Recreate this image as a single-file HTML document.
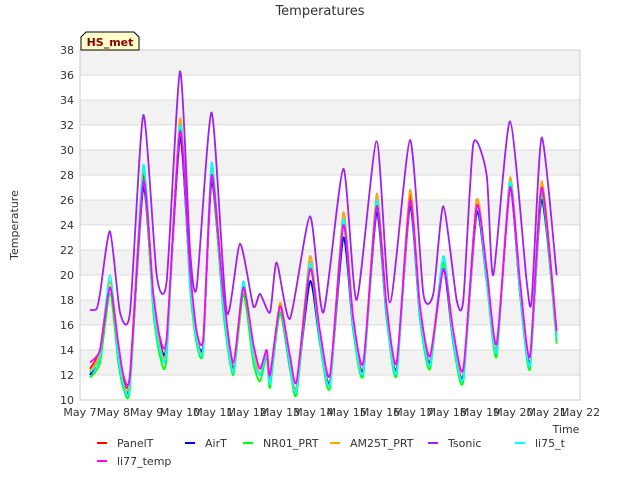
<!DOCTYPE html>
<html><head><meta charset="utf-8">
<style>
body{margin:0;background:#fff;font-family:"Liberation Sans","DejaVu Sans",sans-serif;}
svg text{font-family:"DejaVu Sans","Liberation Sans",sans-serif;}
</style></head>
<body>
<svg id="chart" width="640" height="480" xmlns="http://www.w3.org/2000/svg">
<text x="320" y="15" text-anchor="middle" font-size="13" fill="#333">Temperatures</text>
<g id="bands"></g><g id="grid"></g><g id="series"></g><g id="axes"></g>
<text x="18" y="225" transform="rotate(-90 18 225)" text-anchor="middle" font-size="11" fill="#333">Temperature</text>
<text x="566" y="433" text-anchor="middle" font-size="11" fill="#333">Time</text>
<g>
<path d="M81,50 L81,37 L86,32 L134,32 L139,37 L139,50 Z" fill="#ffffcc" stroke="#000" stroke-width="1"/>
<text x="110" y="46" text-anchor="middle" font-size="11" font-weight="bold" fill="#8b0000">HS_met</text>
</g>
<g id="legend"></g>
</svg>
<script>
const yTicks=[10,12,14,16,18,20,22,24,26,28,30,32,34,36,38];
const xTickLabels=["May 7","May 8","May 9","May 10","May 11","May 12","May 13","May 14","May 15","May 16","May 17","May 18","May 19","May 20","May 21","May 22"];
const times=[7.3,7.6,7.9,8.15,8.3,8.5,8.9,9.2,9.4,9.6,10.0,10.3,10.5,10.7,10.95,11.3,11.6,11.9,12.2,12.4,12.6,12.7,13.0,13.3,13.5,13.9,14.2,14.5,14.9,15.2,15.5,15.9,16.2,16.5,16.9,17.2,17.5,17.9,18.2,18.5,18.9,19.2,19.5,19.9,20.2,20.5,20.85,21.3];
const panelT=[12.5,14,19.5,14,11.5,12,28,18,14.5,14.5,32,20,15,14.5,28,18,12.5,19,14,12,14,11.5,17.5,13,11,21,15,11.5,24.5,16,12.5,26,17,12.5,26.5,17,13,21,15,12,26,20,14,27.5,19,13,27,15];
const airT=[12,13.5,19,13.5,11,11.5,27,17.5,14.5,14.5,31,19.5,15,14.5,27.5,17.5,12.5,18.5,13.5,12,13.5,11.5,17,12.5,11,19.5,14.5,11.5,23,15.5,12.5,25,16.5,12.5,25.5,16.5,13,20.5,14.5,12,25,19.5,14,27,18.5,13,26,15];
const nr01=[11.8,13,18.5,13,11,11,27.5,17,13.5,13.5,32.5,19,14.5,14,28,17,12,18.5,13,11.5,13.5,11,17,12.5,10.5,20.5,14.5,11,24,15.5,12,25.5,16.5,12,26,16.5,12.5,21,14.5,11.5,25.5,19.5,13.5,27.5,18.5,12.5,26.5,14.5];
const am25t=[12.3,13.8,19.5,14,11.3,11.8,28.5,18,14.3,14.3,32.5,20,15,14.3,28.5,18,12.3,19.2,14,12,14,11.3,17.8,13,11,21.5,15,11.3,25,16,12.3,26.5,17,12.3,26.8,17,12.8,21.5,15,11.8,26,20,14,27.8,19,12.8,27.5,15];
const tsonicTimes=[7.3,7.5,7.6,7.9,8.2,8.5,8.9,9.3,9.6,10.0,10.3,10.5,10.95,11.4,11.8,12.2,12.4,12.7,12.9,13.3,13.9,14.3,14.9,15.3,15.9,16.3,16.9,17.3,17.6,17.9,18.3,18.5,18.8,19.2,19.4,19.9,20.4,20.55,20.85,21.3];
const tsonic=[17.2,17.3,18.5,23.5,17,17,32.8,20,19.5,36.3,22,19,33,17,22.5,17.5,18.5,17,21,16.5,24.7,17,28.5,18,30.7,17.8,30.8,18.5,18.5,25.5,18,18,30.5,28,20,32.3,19.5,18,31,20];
const li75=[12.2,13.5,20,13.5,11.3,11.3,28.8,17.5,14,14,32,19.5,14.8,14.2,29,17.5,12.2,19.5,13.5,12,13.8,11.3,17.5,12.8,10.8,21,14.8,11.3,24.5,15.8,12.2,26,16.8,12.2,26,16.8,12.8,21.5,14.8,11.8,25.5,19.8,13.8,27.5,18.8,12.8,27,15];
const li77=[13,14,19,14.5,12,12,27.5,18.5,15,15,31.5,20.5,15.5,15,28,18.5,13,19,14.5,12.5,14,12,17.5,13.5,11.5,20.5,15.5,12,24,16.5,13,25.5,17.5,13,26,17.5,13.5,20.5,15.5,12.5,25.5,20.5,14.5,27,19.5,13.5,27,15.5];
const NS="http://www.w3.org/2000/svg";
const L=80,R=580,T=50,B=400;
const xs=d=>L+(d-7)/15*(R-L);
const ys=v=>B-(v-10)/28*(B-T);
function mk(tag,attrs,parent){const e=document.createElementNS(NS,tag);for(const k in attrs)e.setAttribute(k,attrs[k]);parent.appendChild(e);return e;}
const bands=document.getElementById('bands'),grid=document.getElementById('grid'),axes=document.getElementById('axes');
mk('rect',{x:L,y:T,width:R-L,height:B-T,fill:'#fff'},bands);
for(let i=0;i<yTicks.length-1;i++){if(i%2==1){const r=mk('rect',{x:L,y:ys(yTicks[i+1]),width:R-L,height:ys(yTicks[i])-ys(yTicks[i+1]),fill:'#f2f2f2'},bands);

}}
yTicks.forEach(v=>{const l=mk('line',{x1:L,x2:R,y1:ys(v),y2:ys(v),stroke:'#dcdcdc','stroke-width':1},grid);


const t=mk('text',{x:L-6,y:ys(v)+4,'text-anchor':'end','font-size':11,fill:'#333'},axes);t.textContent=v;

});
xTickLabels.forEach((s,i)=>{const x=xs(7+i);
const t=mk('text',{x:x,y:B+16,'text-anchor':'middle','font-size':11,fill:'#333'},axes);t.textContent=s;

});
const fr=mk('rect',{x:L,y:T,width:R-L,height:B-T,fill:'none',stroke:'#ccc'},axes);


function path(tt,vv){const p=tt.map((t,i)=>[xs(t),ys(vv[i])]);let d='M'+p[0][0]+','+p[0][1];
for(let i=0;i<p.length-1;i++){const p0=p[Math.max(0,i-1)],p1=p[i],p2=p[i+1],p3=p[Math.min(p.length-1,i+2)];
const c1=[p1[0]+(p2[0]-p0[0])/9,p1[1]+(p2[1]-p0[1])/9],c2=[p2[0]-(p3[0]-p1[0])/9,p2[1]-(p3[1]-p1[1])/9];
d+=' C'+c1+' '+c2+' '+p2;}return d;}
const sg=document.getElementById('series');
const defs=[["PanelT",times,panelT,"#ff0000"],["AirT",times,airT,"#0000ff"],["NR01_PRT",times,nr01,"#00ff00"],["AM25T_PRT",times,am25t,"#ffa500"],["Tsonic",tsonicTimes,tsonic,"#a020f0"],["li75_t",times,li75,"#00ffff"],["li77_temp",times,li77,"#ff00ff"]];
defs.forEach(s=>{const e=mk('path',{d:path(s[1],s[2]),fill:'none',stroke:s[3],'stroke-width':1.8,'stroke-linejoin':'round'},sg);

});
const lg=document.getElementById('legend');
const pos=[[97,443],[185,443],[243,443],[330,443],[428,443],[515,443],[97,461]];
defs.forEach((s,i)=>{const g=mk('g',{},lg);


mk('line',{x1:pos[i][0],x2:pos[i][0]+10,y1:pos[i][1],y2:pos[i][1],stroke:s[3],'stroke-width':2},g);
const t=mk('text',{x:pos[i][0]+20,y:pos[i][1]+4,'font-size':11,fill:'#333'},g);t.textContent=s[0];});
</script>
</body></html>
